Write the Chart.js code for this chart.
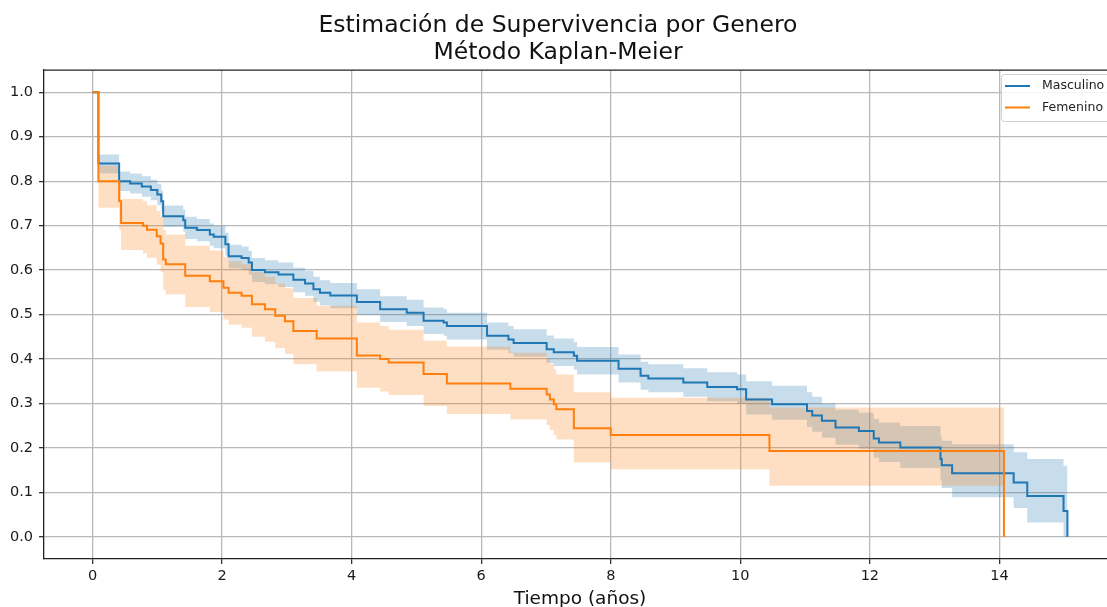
<!DOCTYPE html>
<html>
<head>
<meta charset="utf-8">
<script src="https://cdn.jsdelivr.net/npm/chart.js@4/dist/chart.umd.min.js"></script>
<style>
  html, body { margin: 0; padding: 0; background: #fff; overflow: hidden; }
  #wrap { width: 1116px; height: 612px; }
</style>
</head>
<body>
<div id="wrap"><canvas id="km" width="1116" height="612"></canvas></div>
<script>
// Kaplan-Meier por genero: tiempos de evento, supervivencia e intervalo de confianza
const masculinoTiempo = [0, 0.09, 0.41, 0.58, 0.76, 0.90, 1.00, 1.06, 1.09, 1.40, 1.43, 1.61, 1.81, 1.87, 2.05, 2.10,
  2.30, 2.41, 2.46, 2.66, 2.87, 3.10, 3.28, 3.41, 3.51, 3.67, 4.08, 4.44, 4.85, 5.11, 5.42, 5.47, 6.09, 6.42, 6.50,
  7.01, 7.12, 7.43, 7.48, 8.12, 8.46, 8.58, 9.12, 9.49, 9.95, 10.09, 10.49, 11.03, 11.11, 11.26, 11.47, 11.83, 12.06,
  12.14, 12.47, 13.09, 13.11, 13.27, 14.22, 14.43, 14.99, 15.05];
const masculinoSuperv = [1.0, 0.84, 0.80, 0.795, 0.788, 0.78, 0.77, 0.755, 0.721, 0.712, 0.695, 0.69, 0.68, 0.675, 0.658, 0.631,
  0.627, 0.617, 0.60, 0.595, 0.59, 0.578, 0.57, 0.557, 0.549, 0.543, 0.528, 0.512, 0.504, 0.486, 0.482, 0.474, 0.452, 0.444, 0.436,
  0.422, 0.415, 0.407, 0.396, 0.378, 0.362, 0.356, 0.347, 0.337, 0.332, 0.309, 0.298, 0.283, 0.273, 0.261, 0.246, 0.238, 0.221,
  0.212, 0.201, 0.175, 0.161, 0.143, 0.122, 0.092, 0.058, 0.0];
const masculinoInf = [1.0, 0.817, 0.778, 0.772, 0.765, 0.757, 0.746, 0.731, 0.697, 0.687, 0.67, 0.665, 0.655, 0.649, 0.632, 0.604,
  0.60, 0.59, 0.573, 0.568, 0.562, 0.55, 0.542, 0.529, 0.521, 0.514, 0.499, 0.483, 0.474, 0.456, 0.452, 0.444, 0.421, 0.413, 0.405,
  0.391, 0.384, 0.376, 0.365, 0.347, 0.331, 0.325, 0.315, 0.305, 0.299, 0.275, 0.263, 0.247, 0.236, 0.223, 0.207, 0.198, 0.178,
  0.168, 0.155, 0.127, 0.11, 0.089, 0.065, 0.032, 0.0, 0.0];
const masculinoSup = [1.0, 0.86, 0.822, 0.817, 0.811, 0.803, 0.794, 0.779, 0.745, 0.736, 0.72, 0.715, 0.705, 0.70, 0.684, 0.657,
  0.653, 0.643, 0.627, 0.622, 0.617, 0.605, 0.598, 0.585, 0.577, 0.571, 0.557, 0.541, 0.533, 0.516, 0.512, 0.504, 0.482, 0.474, 0.467,
  0.453, 0.446, 0.438, 0.427, 0.41, 0.394, 0.388, 0.379, 0.37, 0.365, 0.35, 0.34, 0.325, 0.315, 0.30, 0.286, 0.279, 0.265,
  0.257, 0.249, 0.227, 0.216, 0.208, 0.19, 0.175, 0.16, 0.16];

const femeninoTiempo = [0, 0.09, 0.41, 0.44, 0.78, 0.84, 0.99, 1.05, 1.09, 1.13, 1.43, 1.81, 2.02, 2.10, 2.30, 2.46, 2.66,
  2.82, 2.97, 3.10, 3.46, 4.08, 4.44, 4.57, 5.11, 5.47, 6.45, 7.01, 7.06, 7.12, 7.16, 7.43, 8.00, 10.45, 14.07];
const femeninoSuperv = [1.0, 0.80, 0.755, 0.706, 0.70, 0.691, 0.676, 0.66, 0.624, 0.613, 0.587, 0.575, 0.56, 0.549, 0.542, 0.523, 0.512,
  0.497, 0.485, 0.463, 0.446, 0.408, 0.40, 0.392, 0.366, 0.345, 0.333, 0.32, 0.309, 0.298, 0.287, 0.244, 0.229, 0.193, 0.0];
const femeninoInf = [1.0, 0.74, 0.69, 0.645, 0.638, 0.628, 0.612, 0.595, 0.556, 0.545, 0.517, 0.505, 0.489, 0.477, 0.47, 0.45, 0.439,
  0.424, 0.411, 0.388, 0.372, 0.335, 0.327, 0.319, 0.294, 0.276, 0.264, 0.251, 0.24, 0.229, 0.219, 0.167, 0.152, 0.115, 0.115];
const femeninoSup = [1.0, 0.835, 0.80, 0.76, 0.755, 0.746, 0.733, 0.72, 0.69, 0.68, 0.655, 0.644, 0.63, 0.62, 0.613, 0.595, 0.585,
  0.57, 0.559, 0.537, 0.52, 0.482, 0.474, 0.466, 0.441, 0.428, 0.414, 0.40, 0.389, 0.377, 0.365, 0.325, 0.313, 0.291, 0.291];

const xTicks = [0, 2, 4, 6, 8, 10, 12, 14];
const yTicks = [0.0, 0.1, 0.2, 0.3, 0.4, 0.5, 0.6, 0.7, 0.8, 0.9, 1.0];
const series = ['Masculino', 'Femenino'];
const colores = ['#1f77b4', '#ff7f0e'];
const bandas = ['rgba(31,119,180,0.25)', 'rgba(255,127,14,0.25)'];

const FONT = "'DejaVu Sans', sans-serif";
const pts = (xs, ys) => xs.map((x, i) => ({ x, y: ys[i] }));

const base = { stepped: 'before', pointRadius: 0, pointHoverRadius: 0, borderWidth: 0, fill: false };

const datasets = [
  { ...base, label: 'm_inf', data: pts(masculinoTiempo, masculinoInf), order: 10 },
  { ...base, label: 'm_sup', data: pts(masculinoTiempo, masculinoSup), fill: { target: 0 }, backgroundColor: bandas[0], order: 9 },
  { ...base, label: 'f_inf', data: pts(femeninoTiempo, femeninoInf), order: 8 },
  { ...base, label: 'f_sup', data: pts(femeninoTiempo, femeninoSup), fill: { target: 2 }, backgroundColor: bandas[1], order: 7 },
  { ...base, label: series[0], data: pts(masculinoTiempo, masculinoSuperv), borderColor: colores[0], borderWidth: 2, order: 2 },
  { ...base, label: series[1], data: pts(femeninoTiempo, femeninoSuperv), borderColor: colores[1], borderWidth: 2, order: 1 }
];

// top spine + legend box like matplotlib
const marco = {
  id: 'marco',
  afterDatasetsDraw(chart) {
    const { ctx, chartArea: a } = chart;
    ctx.save();
    ctx.strokeStyle = '#222';
    ctx.lineWidth = 1.3;
    ctx.beginPath();
    ctx.moveTo(a.left, a.top);
    ctx.lineTo(a.right, a.top);
    ctx.stroke();

    const bx = 1001, by = 74, bw = 130, bh = 47;
    ctx.fillStyle = 'rgba(255,255,255,0.85)';
    ctx.strokeStyle = '#cfcfcf';
    ctx.lineWidth = 1;
    ctx.beginPath();
    ctx.roundRect(bx + 0.5, by + 0.5, bw, bh, 3);
    ctx.fill();
    ctx.stroke();

    ctx.font = '12.5px ' + FONT;
    ctx.textBaseline = 'middle';
    ctx.textAlign = 'left';
    series.forEach((s, i) => {
      const yy = 86 + i * 21.5;
      ctx.strokeStyle = colores[i];
      ctx.lineWidth = 2;
      ctx.beginPath();
      ctx.moveTo(1005, yy);
      ctx.lineTo(1030, yy);
      ctx.stroke();
      ctx.fillStyle = '#222';
      ctx.fillText(s, 1042, yy);
    });
    ctx.restore();
  }
};

new Chart(document.getElementById('km'), {
  type: 'line',
  data: { datasets },
  options: {
    responsive: false,
    animation: false,
    events: [],
    layout: { padding: 0 },
    plugins: {
      legend: { display: false },
      tooltip: { enabled: false },
      title: {
        display: true,
        text: ['Estimación de Supervivencia por Genero', 'Método Kaplan-Meier'],
        color: '#111',
        font: { family: FONT, size: 23.5, weight: 'normal', lineHeight: 1.15 },
        padding: { top: 12, bottom: 4 }
      }
    },
    scales: {
      x: {
        type: 'linear',
        min: -0.75,
        max: 15.8,
        afterFit: s => { s.height = 53; },
        afterBuildTicks: s => { s.ticks = xTicks.map(v => ({ value: v })); },
        ticks: { color: '#1a1a1a', padding: 4, maxRotation: 0, font: { family: FONT, size: 14.5 }, callback: v => String(v) },
        grid: { color: '#b8b8b8', lineWidth: 1.3, tickLength: 5, tickColor: '#333' },
        border: { display: true, color: '#222', width: 1.3 },
        title: {
          display: true,
          text: 'Tiempo (años)',
          color: '#111',
          font: { family: FONT, size: 18.5 },
          padding: { top: 0, bottom: 2 }
        }
      },
      y: {
        min: -0.05,
        max: 1.05,
        afterFit: s => { s.width = 44; },
        afterBuildTicks: s => { s.ticks = yTicks.map(v => ({ value: v })); },
        ticks: { color: '#1a1a1a', padding: 6, font: { family: FONT, size: 14.5 }, callback: v => v.toFixed(1) },
        grid: { color: '#b8b8b8', lineWidth: 1.3, tickLength: 5, tickColor: '#333' },
        border: { display: true, color: '#222', width: 1.3 }
      }
    }
  },
  plugins: [marco]
});
</script>
</body>
</html>
